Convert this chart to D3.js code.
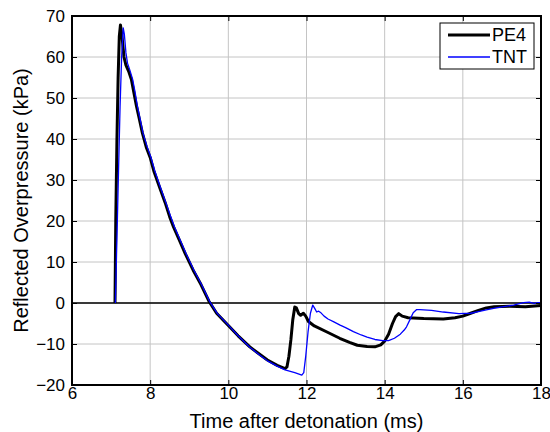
<!DOCTYPE html>
<html>
<head>
<meta charset="utf-8">
<script src="https://cdn.jsdelivr.net/npm/d3@7"></script>
<style>
  html, body { margin: 0; padding: 0; background: #fff; }
  svg { display: block; font-family: "Liberation Sans", Arial, Helvetica, sans-serif; }
</style>
</head>
<body>
<svg id="chart" width="550" height="432"></svg>
<script>
// Reflected overpressure histories for PE4 and TNT charges
const timePE4 = [7.10, 7.12, 7.15, 7.18, 7.21, 7.24, 7.28, 7.33, 7.38, 7.45, 7.52, 7.58, 7.65, 7.72, 7.80, 7.90, 8.00, 8.10, 8.25, 8.40, 8.50, 8.60, 8.75, 8.90, 9.10, 9.30, 9.50, 9.70, 10.00, 10.25, 10.55, 10.80, 11.00, 11.25, 11.45, 11.50, 11.55, 11.60, 11.65, 11.70, 11.74, 11.80, 11.85, 11.92, 11.98, 12.05, 12.20, 12.55, 12.85, 13.10, 13.30, 13.55, 13.75, 13.90, 14.00, 14.10, 14.20, 14.28, 14.36, 14.45, 14.60, 15.00, 15.50, 15.80, 16.00, 16.20, 16.40, 16.60, 16.80, 17.20, 17.60, 18.00];
const pressurePE4 = [0, 20, 40, 55, 65, 67.8, 65, 60, 58, 56.5, 54.5, 51.5, 48, 45, 41.5, 38, 35.5, 32, 28, 24, 21, 18.5, 15.3, 12, 8, 4.5, 0.5, -2.5, -5.5, -8, -10.7, -12.5, -13.9, -15.2, -16.0, -15.6, -13, -9, -4, -1.0, -1.2, -2.6, -3.0, -2.5, -3.2, -4.5, -5.6, -7.2, -8.6, -9.6, -10.3, -10.6, -10.7, -10.2, -9.3, -7.6, -5.0, -3.3, -2.6, -3.2, -3.6, -3.8, -3.9, -3.6, -3.2, -2.5, -1.8, -1.2, -0.9, -0.8, -0.9, -0.6];

const timeTNT = [7.11, 7.15, 7.19, 7.23, 7.27, 7.31, 7.34, 7.38, 7.42, 7.48, 7.55, 7.61, 7.67, 7.74, 7.82, 7.92, 8.02, 8.12, 8.27, 8.42, 8.52, 8.62, 8.77, 8.92, 9.12, 9.32, 9.52, 9.72, 10.00, 10.25, 10.55, 10.80, 11.00, 11.25, 11.45, 11.70, 11.88, 11.93, 11.98, 12.04, 12.10, 12.16, 12.21, 12.26, 12.31, 12.37, 12.45, 12.55, 12.70, 12.86, 13.00, 13.20, 13.40, 13.55, 13.75, 13.95, 14.10, 14.25, 14.40, 14.50, 14.56, 14.65, 14.73, 14.82, 14.90, 15.20, 15.50, 15.90, 16.20, 16.40, 16.60, 16.85, 17.05, 17.30, 17.55, 17.70, 17.82, 17.92, 18.00];
const pressureTNT = [0, 16, 32, 48, 60, 67.1, 65.5, 61, 58.5, 56.8, 54.6, 51.6, 48.2, 45, 41.3, 38.2, 35.5, 32.2, 28, 24, 21.2, 18.6, 15.3, 12, 8, 4.4, 0.4, -2.6, -5.4, -8, -10.8, -12.7, -14.1, -15.4, -16.3, -17.0, -17.6, -17.0, -13, -7, -2.5, -0.5, -1.3, -2.2, -2.0, -2.4, -3.2, -3.9, -4.6, -5.4, -6.0, -7.0, -7.8, -8.3, -8.9, -9.2, -9.2, -8.6, -7.6, -6.6, -5.8, -4.0, -2.4, -1.6, -1.6, -1.8, -2.2, -2.6, -2.5, -2.1, -1.7, -1.2, -0.9, -0.5, 0.1, 0.2, -0.1, 0.1, 0.1];

const xTicks = [6, 8, 10, 12, 14, 16, 18];
const yTicks = [-20, -10, 0, 10, 20, 30, 40, 50, 60, 70];
const seriesNames = ["PE4", "TNT"];

const svg = d3.select("#chart");
const margin = { left: 72, top: 16, right: 9, bottom: 47 };
const W = 550 - margin.left - margin.right;
const H = 432 - margin.top - margin.bottom;

const x = d3.scaleLinear().domain([6, 18]).range([0, W]);
const y = d3.scaleLinear().domain([-20, 70]).range([H, 0]);

const g = svg.append("g").attr("transform", `translate(${margin.left},${margin.top})`);

// grid
g.append("g").selectAll("line").data(xTicks.slice(1, -1)).join("line")
  .attr("x1", d => x(d)).attr("x2", d => x(d)).attr("y1", 0).attr("y2", H)
  .attr("stroke", "#c4c4c4").attr("stroke-width", 1);
g.append("g").selectAll("line").data(yTicks.slice(1, -1)).join("line")
  .attr("y1", d => y(d)).attr("y2", d => y(d)).attr("x1", 0).attr("x2", W)
  .attr("stroke", "#c4c4c4").attr("stroke-width", 1);

// zero reference line
g.append("line").attr("x1", 0).attr("x2", W).attr("y1", y(0)).attr("y2", y(0))
  .attr("stroke", "#000").attr("stroke-width", 1.3);

// series
const line = d3.line().x(d => x(d[0])).y(d => y(d[1]));
const pe4 = timePE4.map((t, i) => [t, pressurePE4[i]]);
const tnt = timeTNT.map((t, i) => [t, pressureTNT[i]]);

g.append("path").datum(pe4).attr("d", line).attr("fill", "none")
  .attr("stroke", "#000").attr("stroke-width", 3).attr("stroke-linejoin", "round");
g.append("path").datum(tnt).attr("d", line).attr("fill", "none")
  .attr("stroke", "#0000ff").attr("stroke-width", 1.3).attr("stroke-linejoin", "round");

// axes (inward ticks on all four sides)
const fs = "17px";
const xAxis = d3.axisBottom(x).tickValues(xTicks).tickSizeInner(-5).tickSizeOuter(0).tickPadding(2);
const yAxis = d3.axisLeft(y).tickValues(yTicks).tickSizeInner(-5).tickSizeOuter(0).tickPadding(7)
  .tickFormat(d => d < 0 ? "\u2212" + Math.abs(d) : d);

const gx = g.append("g").attr("transform", `translate(0,${H})`).call(xAxis);
const gy = g.append("g").call(yAxis);
const gxt = g.append("g").call(d3.axisTop(x).tickValues(xTicks).tickSizeInner(-5).tickSizeOuter(0).tickFormat(""));
const gyr = g.append("g").attr("transform", `translate(${W},0)`)
  .call(d3.axisRight(y).tickValues(yTicks).tickSizeInner(-5).tickSizeOuter(0).tickFormat(""));

[gx, gy, gxt, gyr].forEach(a => {
  a.select(".domain").remove();
  a.selectAll(".tick line").attr("stroke", "#000").attr("stroke-width", 1);
  a.selectAll("text").attr("font-size", fs).attr("fill", "#000")
    .attr("font-family", "'Liberation Sans', Arial, sans-serif");
});

// frame
g.append("rect").attr("x", 0).attr("y", 0).attr("width", W).attr("height", H)
  .attr("fill", "none").attr("stroke", "#000").attr("stroke-width", 2);

// axis titles
svg.append("text").attr("x", margin.left + W / 2).attr("y", 428)
  .attr("text-anchor", "middle").attr("font-size", "20px").attr("fill", "#000")
  .text("Time after detonation (ms)");
svg.append("text")
  .attr("transform", `translate(28,${margin.top + H / 2}) rotate(-90)`)
  .attr("text-anchor", "middle").attr("font-size", "20px").attr("fill", "#000")
  .text("Reflected Overpressure (kPa)");

// legend
const lg = svg.append("g").attr("transform", "translate(440,23)");
lg.append("rect").attr("width", 94).attr("height", 46)
  .attr("fill", "#fff").attr("stroke", "#000").attr("stroke-width", 1);
const legendItems = [
  { name: seriesNames[0], color: "#000", w: 3 },
  { name: seriesNames[1], color: "#0000ff", w: 1.3 }
];
legendItems.forEach((it, i) => {
  const yy = 12 + i * 22;
  lg.append("line").attr("x1", 8).attr("x2", 50).attr("y1", yy).attr("y2", yy)
    .attr("stroke", it.color).attr("stroke-width", it.w);
  lg.append("text").attr("x", 52).attr("y", yy + 6).attr("font-size", "18px").attr("fill", "#000")
    .text(it.name);
});
</script>
</body>
</html>
